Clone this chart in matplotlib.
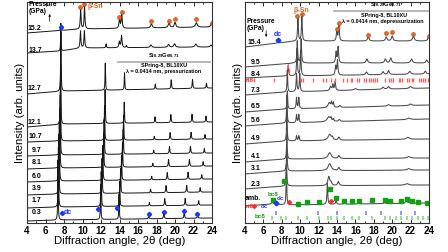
import numpy as np
import matplotlib.pyplot as plt
from matplotlib.ticker import MultipleLocator

plt.rcParams['font.family'] = ['Liberation Sans', 'DejaVu Sans']
plt.rcParams['font.weight'] = 'bold'
plt.rcParams['mathtext.fontset'] = 'custom'
plt.rcParams['mathtext.rm'] = 'Liberation Sans:bold'
plt.rcParams['mathtext.default'] = 'rm'

# ---------------- pressurization (left panel) ----------------
up_labels = ['15.2', '13.7', '12.7', '12.1', '10.7', '9.7', '8.1', '6.0', '3.9', '1.7', '0.3']
up_label_y = [195, 173, 135, 101, 86, 72, 60, 47, 34, 22, 10]

# background points (2theta, offset) and peaks (2theta, height, hwhm)
bg_152 = [(4, 190), (9.8, 194), (24, 196)]
pk_152 = [(7.65, 1.5, .08), (9.8, 20, .05), (10.22, 23, .05), (14.0, 10, .06), (14.24, 15, .06),
          (17.45, 4, .1), (19.35, 4.5, .1), (20.0, 5, .1), (22.3, 4.5, .12), (23.95, 3.5, .1)]
bg_137 = [(4, 170), (7.6, 172), (9.8, 175), (24, 176)]
pk_137 = [(7.65, 19, .03), (9.78, 17, .05), (10.2, 17, .05), (12.55, 4, .04), (13.98, 6, .06),
          (14.22, 12, .06), (14.75, 2, .05), (17.4, 2.5, .1), (19.3, 3, .1), (19.95, 3.5, .1),
          (22.25, 3, .12), (23.9, 2, .1)]
bg_127 = [(4, 129), (8, 132), (24, 135)]
bg_121 = [(4, 96), (8, 99), (24, 101)]

# diamond-cubic reflections per pressure
dc_pos_127 = [7.66, 12.46, 14.54, 17.87, 19.59, 21.89, 23.40]
dc_pos_121 = [7.64, 12.44, 14.51, 17.84, 19.55, 21.84, 23.35]
dc_pos_107 = [7.61, 12.38, 14.44, 17.76, 19.47, 21.74, 23.24]
dc_pos_97 = [7.59, 12.34, 14.40, 17.70, 19.40, 21.67, 23.17]
dc_pos_81 = [7.54, 12.28, 14.32, 17.60, 19.30, 21.56, 23.04]
dc_pos_60 = [7.49, 12.19, 14.22, 17.48, 19.16, 21.41, 22.89]
dc_pos_39 = [7.44, 12.11, 14.12, 17.36, 19.03, 21.26, 22.72]
dc_pos_17 = [7.39, 12.02, 14.02, 17.23, 18.89, 21.10, 22.56]
dc_pos_03 = [7.35, 11.96, 13.95, 17.15, 18.80, 21.00, 22.45]
dc_h_127 = [68, 27, 17, 5, 9, 9, 5]
dc_h_121 = [60, 34, 21, 6, 8, 8, 6]
dc_h = [60, 35, 25, 3.5, 7, 7, 4.5]
dc_w = [.03, .03, .03, .04, .04, .04, .04]
dc_base = [81, 67, 54, 41, 28, 15, 2]

bsn_up_x = [9.75, 10.2, 13.93, 14.25, 17.45, 19.3, 20.05, 22.3, 23.95]
bsn_up_y = [216, 219, 206, 211, 202, 202, 204, 204, 200]
dc_mk_up_x = [7.65, 7.75, 11.7, 13.75, 17.15, 18.8, 21.0, 22.4]
dc_mk_up_y = [196, 10, 14, 15, 9, 11, 12, 9]

# ---------------- depressurization (right panel) ----------------
dn_labels = ['15.4', '9.5', '8.4', '7.3', '6.5', '5.6', '4.9', '4.1', '3.1', '2.3', 'amb.']
dn_label_y = [181, 161, 148, 133, 116, 102, 84, 66, 54, 39, 25]

bg_154 = [(4, 176), (9.5, 182), (24, 182)]
pk_154 = [(7.6, 1.5, .08), (9.75, 23, .05), (10.18, 25, .05), (13.98, 10, .06), (14.2, 16, .06),
          (17.4, 4, .1), (19.35, 4, .1), (20.0, 5, .1), (22.3, 4.5, .12), (23.95, 4, .1)]
bg_95 = [(4, 156), (9.5, 160), (24, 160)]
pk_95 = [(9.68, 22, .05), (10.1, 24, .05), (13.9, 11, .06), (14.12, 16, .06), (17.25, 4, .1),
         (19.25, 4, .1), (19.85, 5, .1), (22.1, 4, .12), (23.75, 3, .1)]
bg_84 = [(4, 145), (8.5, 147), (24, 149)]
pk_84 = [(8.7, 11, .05), (9.65, 27, .05), (10.05, 25, .05), (13.85, 9, .06), (14.05, 15, .06),
         (17.2, 3, .1), (19.0, 3, .1), (19.6, 4, .1), (21.9, 3, .12), (23.6, 3, .1)]
bg_73 = [(4, 128), (8.5, 131), (24, 135)]
pk_73 = [(8.6, 22, .04), (9.6, 18, .05), (9.95, 18, .05), (13.3, 4, .1), (13.55, 6, .06),
         (13.8, 9, .06), (16.0, 1.5, .15), (19.0, 2, .12), (19.6, 2.5, .12), (22.0, 2, .15)]
bg_65 = [(4, 111), (8.5, 114), (24, 118)]
pk_65 = [(8.6, 18, .04), (9.6, 11, .05), (9.85, 11, .05), (13.15, 5, .15), (13.4, 5, .06),
         (13.6, 5, .06), (14.3, 2, .1), (19.6, 1.5, .15), (22.0, 1.5, .15)]
bg_56 = [(4, 97), (8.5, 100), (24, 104)]
pk_56 = [(8.55, 28, .04), (9.6, 8, .05), (9.85, 8, .05), (13.1, 5, .2), (13.35, 3, .06),
         (13.6, 2.5, .06), (14.25, 2, .1), (21.8, 1.5, .2)]
bg_49 = [(4, 79), (8.5, 82), (24, 84)]
pk_49 = [(8.55, 30, .04), (9.6, 5, .05), (9.85, 5, .05), (13.2, 6, .2), (13.5, 2.5, .08),
         (14.2, 3, .1), (21.7, 2, .2)]
bg_41 = [(4, 61), (8.5, 64), (24, 65)]
pk_41 = [(8.55, 25, .04), (13.2, 6, .2), (14.2, 3, .1), (21.8, 1.5, .2)]
bg_31 = [(4, 49), (8.5, 52), (24, 53)]
pk_31 = [(8.55, 22, .05), (13.2, 7, .2), (14.2, 3, .1), (21.8, 1.5, .2)]
bg_23 = [(4, 34), (8.5, 37), (24, 38)]
pk_23 = [(8.5, 22, .05), (13.1, 9, .12), (13.35, 3, .1), (14.15, 4, .1), (21.6, 1.5, .2)]
bg_amb = [(4, 17), (7, 19), (8.5, 18), (24, 20)]
pk_amb = [(6.95, 3, .06), (7.3, 2, .06), (8.5, 40, .04), (9.8, 1, .1), (12.95, 21, .05),
          (13.9, 4, .06), (14.8, 1, .1), (16.4, 1, .1), (19.2, 1, .1), (21.55, 3, .1), (22.1, 1.5, .1)]

bsn_dn_x = [9.7, 10.15, 13.95, 14.2, 17.35, 19.35, 20.0, 22.3, 23.95]
bsn_dn_y = [207, 209, 194, 200, 188, 190, 191, 189, 187]
bc8_mk_x = [7.05, 8.2, 9.8, 10.7, 12.0, 13.2, 13.9, 14.8, 15.6, 16.4, 17.8, 19.2, 19.8, 21.0,
            21.6, 22.2, 22.8, 23.8]
bc8_mk_y = [23, 42, 19, 21, 21, 34, 25, 22, 22, 22, 23, 23, 22, 22, 24, 22, 21, 20]
rt8_mk_x = [5.0, 8.8, 13.4]
rt8_mk_y = [17, 21, 22]
dc_mk_dn_x = [7.6, 7.35]
dc_mk_dn_y = [183, 20]

# reference reflection ticks
dc_ref = [7.35, 11.96, 13.95, 17.15, 18.8, 21.0, 22.45]
bc8_ref = [6.9, 7.9, 8.5, 9.8, 10.7, 12.0, 13.0, 13.3, 14.0, 14.8, 15.6, 16.4, 17.8, 19.2, 19.8,
           20.4, 21.0, 21.6, 22.2, 22.8, 23.3, 23.85]
rt8_ref = [5.0, 7.1, 10.1, 10.3, 11.4, 12.5, 12.8, 13.4, 13.8, 14.6, 15.1, 15.5, 15.65, 16.2,
           16.35, 16.9, 17.1, 17.5, 17.7, 17.9, 18.1, 18.4, 19.2, 19.7, 19.9, 20.1, 20.7, 20.9,
           21.1, 21.6, 21.8, 22.1, 22.3, 22.9, 23.1, 23.35, 23.6, 23.85]

ORANGE = '#f0641e'
BLUE = '#1a35ff'
GREEN = '#12a012'
RED = '#ff2a2a'

x = np.linspace(4, 24, 4001)


def pattern(bg, peaks):
    bx, by = zip(*bg)
    y = np.interp(x, bx, by)
    for c, h, w in peaks:
        y = y + h * w**2 / ((x - c)**2 + w**2)
    return y


def dc_peaks(pos, h):
    return list(zip(pos, h, dc_w))


def style(ax):
    ax.set_xlim(4, 24)
    ax.set_ylim(0, 221)
    ax.set_xticks(range(4, 25, 2))
    ax.xaxis.set_minor_locator(MultipleLocator(1))
    ax.set_yticks([])
    ax.tick_params(axis='x', which='both', direction='in', top=True, width=0.7,
                   labelsize=7, pad=2, color='#333333')
    ax.tick_params(axis='x', which='major', length=3)
    ax.tick_params(axis='x', which='minor', length=1.5)
    for s in ax.spines.values():
        s.set_linewidth(0.8)
        s.set_color('#333333')
    ax.set_xlabel('Diffraction angle, 2θ (deg)', fontsize=8.2, labelpad=0.5)
    ax.set_ylabel('Intensity (arb. units)', fontsize=8.2, labelpad=1.5)


fig = plt.figure(figsize=(4.48, 2.52), dpi=100)
axL = fig.add_axes([27 / 448, 1 - 223 / 252, 185 / 448, 221 / 252])
axR = fig.add_axes([245 / 448, 1 - 223 / 252, 184 / 448, 221 / 252])

# ---- left panel ----
up_traces = [pattern(bg_152, pk_152), pattern(bg_137, pk_137),
             pattern(bg_127, dc_peaks(dc_pos_127, dc_h_127)),
             pattern(bg_121, dc_peaks(dc_pos_121, dc_h_121))]
for b, pos in zip(dc_base, [dc_pos_107, dc_pos_97, dc_pos_81, dc_pos_60, dc_pos_39,
                            dc_pos_17, dc_pos_03]):
    up_traces.append(pattern([(4, b), (7.5, b + 1), (24, b + 3)], dc_peaks(pos, dc_h)))
for y, lab, ly in zip(up_traces, up_labels, up_label_y):
    axL.plot(x, y, color='#151515', lw=0.7)
    axL.text(5.6, ly, lab, fontsize=5, ha='right', va='center')

axL.plot(bsn_up_x, bsn_up_y, 'o', ms=2.8, mfc=ORANGE, mec='#b84000', mew=0.4, ls='none')
axL.plot(dc_mk_up_x, dc_mk_up_y, 'D', ms=2.2, color=BLUE, ls='none')
axL.text(10.55, 217, 'β-Sn', color=ORANGE, fontsize=5, va='center')
axL.text(8.0, 10, 'dc', color=BLUE, fontsize=5, va='center')
axL.text(4.2, 215, 'Pressure\n(GPa)', fontsize=4.8, va='center', linespacing=1.1)
axL.annotate('', xy=(6.45, 212), xytext=(6.45, 199),
             arrowprops=dict(arrowstyle='-|>', lw=0.6, color='#222222', mutation_scale=3))
axL.text(18.8, 167, 'Si$_{0.29}$Ge$_{0.71}$', fontsize=4.2, ha='center', va='center')
axL.plot([13.8, 23.8], [161.5, 161.5], color='#aaaaaa', lw=1.2)
axL.text(18.8, 157, 'SPring-8, BL10XU', fontsize=3.9, ha='center', va='center')
axL.text(18.8, 151, 'λ = 0.0414 nm, pressurization', fontsize=3.9, ha='center', va='center')
style(axL)

# ---- right panel ----
dn_traces = [pattern(bg_154, pk_154), pattern(bg_95, pk_95), pattern(bg_84, pk_84),
             pattern(bg_73, pk_73), pattern(bg_65, pk_65), pattern(bg_56, pk_56),
             pattern(bg_49, pk_49), pattern(bg_41, pk_41), pattern(bg_31, pk_31),
             pattern(bg_23, pk_23), pattern(bg_amb, pk_amb)]
for y, lab, ly in zip(dn_traces, dn_labels, dn_label_y):
    axR.plot(x, y, color='#4a4a4a', lw=0.75)
    axR.text(5.7, ly, lab, fontsize=5, ha='right', va='center')

axR.vlines(rt8_ref, 141, 145, color='#ff6060', lw=1.0)
axR.vlines([8.62, 8.78], [155, 150], [159, 154], color='#ff6060', lw=1.0)
axR.vlines(dc_ref, 8, 12, color='#8080ff', lw=1.2)
axR.vlines(bc8_ref, 3.5, 7.5, color='#80dd80', lw=1.2)

axR.plot(bsn_dn_x, bsn_dn_y, 'o', ms=2.8, mfc=ORANGE, mec='#b84000', mew=0.4, ls='none')
axR.plot(bc8_mk_x, bc8_mk_y, 's', ms=2.4, color=GREEN, ls='none')
axR.plot(rt8_mk_x, rt8_mk_y, 'D', ms=2.0, color=RED, ls='none')
axR.plot(dc_mk_dn_x, dc_mk_dn_y, 'D', ms=2.4, color=BLUE, ls='none')

axR.text(10.1, 213, 'β-Sn', color=ORANGE, fontsize=5, ha='center', va='center')
axR.text(7.6, 189, 'dc', color=BLUE, fontsize=5, ha='center', va='center')
axR.text(4.15, 198, 'Pressure\n(GPa)', fontsize=4.8, va='center', linespacing=1.1)
axR.annotate('', xy=(6.3, 183), xytext=(6.3, 195),
             arrowprops=dict(arrowstyle='-|>', lw=0.6, color='#222222', mutation_scale=3))
axR.text(4.1, 143, 'rt8', color=RED, fontsize=4.5, va='center')
axR.text(4.1, 17, 'rt8', color=RED, fontsize=4.5, va='center')
axR.text(7.0, 28.5, 'bc8', color=GREEN, fontsize=4.5, ha='center', va='center')
axR.text(7.85, 25, 'dc', color=BLUE, fontsize=4.5, ha='center', va='center')
axR.text(6.1, 16, 'dc', color=BLUE, fontsize=4.5, ha='center', va='center')
axR.text(5.65, 6, 'bc8', color=GREEN, fontsize=4.5, ha='center', va='center')
axR.text(19.3, 218, 'Si$_{0.29}$Ge$_{0.71}$', fontsize=4.2, ha='center', va='center')
axR.plot([13.7, 23.9], [212.5, 212.5], color='#aaaaaa', lw=1.2)
axR.text(19.1, 208, 'SPring-8, BL10XU', fontsize=3.9, ha='center', va='center')
axR.text(19.0, 202, 'λ = 0.0414 nm, depressurization', fontsize=3.9, ha='center', va='center')
style(axR)

fig.savefig('out.png', dpi=100)
